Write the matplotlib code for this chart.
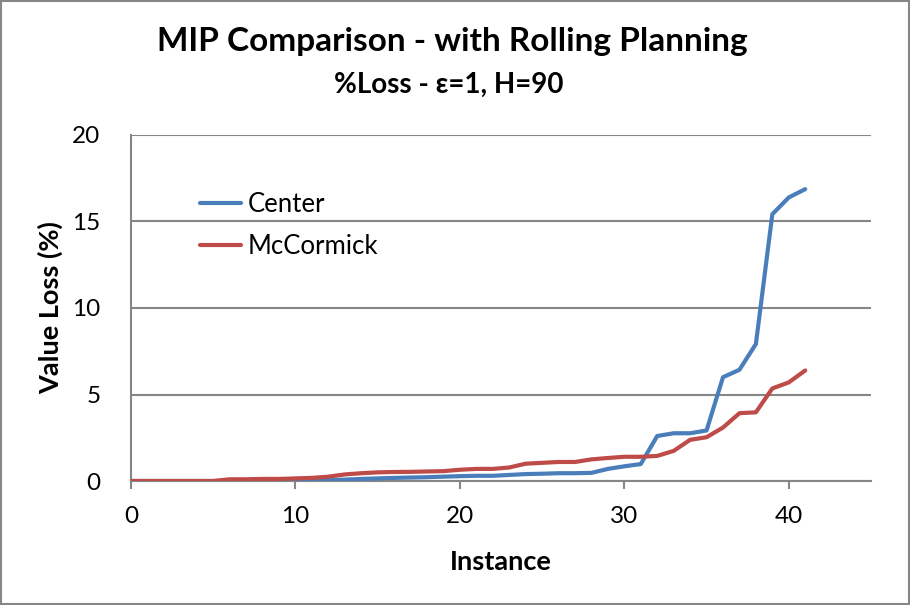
import matplotlib
matplotlib.use("Agg")
import matplotlib.pyplot as plt
from matplotlib.patches import Rectangle

# --- DATA ---
instances = list(range(42))
center = [0, 0, 0, 0, 0, 0, 0, 0, 0, 0,
          0.02, 0.03, 0.05, 0.08, 0.12, 0.15, 0.18, 0.20, 0.22, 0.25,
          0.28, 0.30, 0.30, 0.35, 0.40, 0.42, 0.45, 0.45, 0.47, 0.70,
          0.85, 0.98, 2.60, 2.76, 2.76, 2.92, 6.00, 6.43, 7.92, 15.42,
          16.39, 16.87]
mccormick = [0, 0, 0, 0, 0, 0, 0.10, 0.10, 0.12, 0.12,
             0.15, 0.18, 0.25, 0.38, 0.45, 0.50, 0.52, 0.53, 0.55, 0.57,
             0.65, 0.70, 0.70, 0.78, 1.00, 1.05, 1.10, 1.10, 1.25, 1.33,
             1.40, 1.40, 1.45, 1.74, 2.38, 2.53, 3.09, 3.92, 3.97, 5.35,
             5.70, 6.39]
series_names = ["Center", "McCormick"]
x_ticks = [0, 10, 20, 30, 40]
y_ticks = [0, 5, 10, 15, 20]

plt.rcParams['font.family'] = ['Lato', 'DejaVu Sans']

fig = plt.figure(figsize=(9.1, 6.05), dpi=100)
ax = fig.add_axes([131 / 910, 1 - 481 / 605, 740 / 910, 346 / 605])

ax.plot(instances, center, color='#4A7EBB', lw=3, label=series_names[0],
        solid_capstyle='round', solid_joinstyle='round', zorder=3)
ax.plot(instances, mccormick, color='#BE4B48', lw=3, label=series_names[1],
        solid_capstyle='round', solid_joinstyle='round', zorder=4)

ax.set_xlim(0, 45)
ax.set_ylim(0, 20)
ax.set_xticks(x_ticks)
ax.set_yticks(y_ticks)
ax.tick_params(axis='x', length=6, width=1.5, color='#868686', labelsize=17.5, pad=12)
ax.tick_params(axis='y', length=0, labelsize=17.5, pad=22)
ax.grid(axis='y', color='#868686', lw=1.5)
ax.set_axisbelow(True)
for side in ['top', 'right']:
    ax.spines[side].set_visible(False)
for side in ['left', 'bottom']:
    ax.spines[side].set_color('#868686')
    ax.spines[side].set_linewidth(1.5)

ax.set_xlabel('Instance', fontsize=19.5, fontweight='bold')
ax.set_ylabel('Value Loss (%)', fontsize=19.5, fontweight='bold')
ax.xaxis.set_label_coords(0.5, -0.2)
ax.yaxis.set_label_coords(-0.092, 0.5)

leg = ax.legend(loc='upper left', bbox_to_anchor=(0.093, 0.834), frameon=False,
                fontsize=18.5, handlelength=1.6, handletextpad=0.25, labelspacing=0.65,
                borderpad=0, borderaxespad=0)

fig.text(0.497, 0.932, 'MIP Comparison - with Rolling Planning', ha='center', va='center',
         fontsize=24, fontweight='bold')
fig.text(0.493, 0.859, '%Loss - ε=1, H=90', ha='center', va='center',
         fontsize=20, fontweight='bold')

fig.patches.append(Rectangle((0.001, 0.001), 0.998, 0.997, transform=fig.transFigure,
                             fill=False, edgecolor='#868686', lw=1.5))

fig.savefig('out.png', dpi=100)
